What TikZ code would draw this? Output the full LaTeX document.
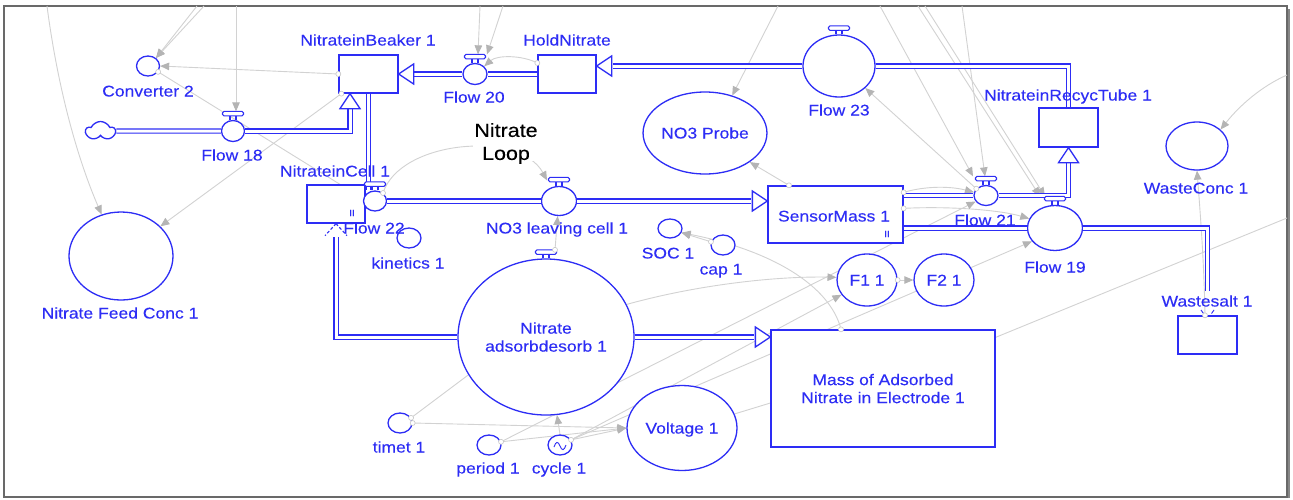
\documentclass[tikz,border=0pt]{standalone}
\usepackage{fontspec}
\setmainfont{Liberation Sans}[FakeStretch=1.13,FakeBold=0.2]
\usetikzlibrary{shapes.geometric,shapes.symbols,arrows.meta,calc,backgrounds}
\definecolor{sb}{RGB}{45,45,245}
\definecolor{lg}{RGB}{210,210,210}
\definecolor{ag}{RGB}{180,180,180}
\definecolor{fr}{RGB}{105,105,105}
\newcommand\LblFont{\fontsize{15.5}{18}\selectfont}
\tikzset{
  stock/.style={draw=sb, line width=1.3pt, fill=white, rectangle, inner sep=0pt},
  ellb/.style={draw=sb, line width=1.3pt, fill=white, ellipse, inner sep=0pt},
  ell/.style={ellb, text=sb, font=\LblFont, text height=11pt, text depth=0pt},
  lbl/.style={text=sb, font=\LblFont, inner sep=0pt, text height=11pt, text depth=0pt},
  mlbl/.style={text=sb, font=\LblFont, align=center, text depth=0pt},
  pipe/.style={draw=sb, double=white, double distance=3pt, line width=1.2pt},
  link/.style={draw=lg, line width=0.9pt, -{Triangle[length=9pt,width=7.5pt,color=ag]}},
  plain/.style={draw=lg, line width=0.9pt},
  odot/.style={circle, draw=black!22, fill=white, inner sep=0pt, minimum size=5pt, line width=0.6pt},
  iimark/.style={text=sb, font=\fontsize{9}{9}\selectfont, inner sep=0pt},
  fhead/.pic={\draw[draw=sb, line width=1.3pt, fill=white, line join=miter] (0,0) -- (-15,10) -- (-15,-10) -- cycle;},
  dhead/.pic={\draw[draw=sb, line width=1.1pt, dash pattern=on 3pt off 2pt] (0,0) -- (-12,11) (0,0) -- (-12,-11);},
  handle/.pic={\draw[sb, line width=1.1pt] (-3,0) -- (-3,-4) (3,0) -- (3,-4);
               \draw[sb, line width=1.1pt, fill=white, rounded corners=1.5pt] (-10.5,-4) rectangle (10.5,-8.5);}
}
\begin{document}
\begin{tikzpicture}[x=1pt,y=-1pt]
\useasboundingbox (0,0) rectangle (1293,499);

% ---------- stocks ----------
\node[stock, minimum width=59pt, minimum height=38pt] (beaker) at (368.5,74) {};
\node[stock, minimum width=58pt, minimum height=38pt] (hold) at (567,74) {};
\node[stock, minimum width=59pt, minimum height=39pt] (recyc) at (1068.5,127.5) {};
\node[stock, minimum width=58pt, minimum height=38pt] (cell) at (336,204) {};
\node[stock, minimum width=135pt, minimum height=57pt] (sensor) at (835.5,214.5) {};
\node[stock, minimum width=224pt, minimum height=117pt, mlbl] (mass) at (883,388.5) {Mass of Adsorbed\\Nitrate in Electrode 1};
\node[stock, minimum width=59pt, minimum height=38pt] (waste) at (1207.5,335) {};

% ---------- flows ----------
\node[ell, minimum width=23pt, minimum height=21pt] (f18) at (233,131) {};
\node[ell, minimum width=24pt, minimum height=21pt] (f20) at (475,74) {};
\node[ell, minimum width=72pt, minimum height=62pt] (f23) at (839,66) {};
\node[ell, minimum width=23pt, minimum height=20pt] (f22) at (375,201) {};
\node[ell, minimum width=35pt, minimum height=29pt] (fno3) at (559,201) {};
\node[ell, minimum width=24pt, minimum height=20pt] (f21) at (986,195.5) {};
\node[ell, minimum width=55pt, minimum height=45pt] (f19) at (1055,228) {};
\node[ellb, minimum width=176pt, minimum height=156pt, mlbl] (fads) at (546,337) {Nitrate\\adsorbdesorb 1};

% ---------- converters ----------
\node[ell, minimum width=23pt, minimum height=20pt] (conv2) at (148,66) {};
\node[ell, minimum width=24pt, minimum height=20pt] (kin) at (409,238) {};
\node[ell, minimum width=24pt, minimum height=19pt] (soc) at (670,228.5) {};
\node[ell, minimum width=24pt, minimum height=20pt] (cap) at (723,245) {};
\node[ell, minimum width=24pt, minimum height=20pt] (timet) at (400,423) {};
\node[ell, minimum width=24pt, minimum height=20pt] (period) at (489,445) {};
\node[ell, minimum width=24pt, minimum height=20pt] (cycle) at (560,445) {};
\node[ell, minimum width=110pt, minimum height=85pt] (volt) at (682,428) {Voltage 1};
\node[ell, minimum width=96pt, minimum height=82pt] (probe) at (705,133) {NO3 Probe};
\node[ell, minimum width=62pt, minimum height=48pt] (wconc) at (1197,146) {};
\node[ell, minimum width=104pt, minimum height=88pt] (feed) at (121,256) {};
\node[ell, minimum width=60pt, minimum height=52pt] (F1) at (867,280) {F1 1};
\node[ell, minimum width=60pt, minimum height=52pt] (F2) at (944,280) {F2 1};

\node[cloud, cloud puffs=5, cloud puff arc=130, aspect=1.5, draw=sb, fill=white, line width=1.3pt,
      minimum width=29pt, minimum height=19pt, inner sep=0pt] (cloud) at (100.5,131) {};

% ---------- handle coordinates ----------
\coordinate (f18h) at ([yshift=8.5pt]f18.north);
\coordinate (f20h) at ([yshift=8.5pt]f20.north);
\coordinate (f21h) at ([yshift=8.5pt]f21.north);
\coordinate (f19h) at ([yshift=8.5pt]f19.north);
\coordinate (fno3h) at ([yshift=8.5pt]fno3.north);
\coordinate (fadsh) at ([yshift=8.5pt]fads.north);
\coordinate (b18) at ($(beaker.south)+(-18.5,0)$);

% ---------- free ends at the frame ----------
\coordinate (t1) at (47,6);
\coordinate (t2a) at (197,6);
\coordinate (t2b) at (204,6);
\coordinate (t3) at (236,6);
\coordinate (t8a) at (480,6);
\coordinate (t8b) at (503,6);
\coordinate (t9) at (778,6);
\coordinate (t12a) at (880,6);
\coordinate (t12b) at (962,6);
\coordinate (t13a) at (918,6);
\coordinate (t13b) at (925,6);
\coordinate (r1) at (1287,75);
\coordinate (r2) at (1287,218);

% ---------- background: frame and information links ----------
\begin{scope}[on background layer]
\fill[white] (0,0) rectangle (1293,499);
\draw[fr, line width=1.2pt] (4,6) rectangle (1287,497);
\draw[fr!80, line width=2.5pt] (1289,9) -- (1289,498);

\draw[link] (t1) .. controls (58,90) and (78,160) .. (feed.115);
\draw[link] (t2a) -- (conv2.45);
\draw[link] (t2b) -- (conv2.45);
\draw[link] (t3) -- ([xshift=3pt]f18h);
\draw[link] (beaker.west) -- (conv2.east);
\draw[plain] (conv2.-30) -- ([xshift=4pt]cell.north);
\draw[link] ([xshift=3pt]beaker.south west) -- (feed.37);
\draw[link] ([yshift=11pt]hold.west) .. controls (522,55) and (497,55) .. (f20.40);
\draw[link] (t8a) -- ([xshift=3pt]f20h);
\draw[link] (t8b) -- ([xshift=12pt]f20h);
\draw[link] (t9) -- (probe.54);
\draw[link] ([xshift=-46.5pt]sensor.north) -- (probe.-33);
\draw[link] (f21.145) -- (f23.-40);
\draw[link] (t12a) -- ([xshift=-13pt]f21h);
\draw[link] (t12b) -- ([xshift=-1pt]f21h);
\draw[link] (t13a) -- ([xshift=-15pt]f19h);
\draw[link] (t13b) -- ([xshift=-10pt]f19h);
\draw[link] (r1) .. controls (1262,86) and (1240,105) .. (wconc.35);
\draw[link] ([xshift=-2.5pt]waste.north) .. controls (1204,260) and (1200,210) .. (wconc.south);
\draw[link] ([yshift=-7pt]sensor.north east) .. controls (925,186) and (950,186) .. (f21.165);
\draw[link] ([yshift=-23pt]sensor.north east) .. controls (950,206) and (1000,210) .. (f19.160);
\draw[link] (period.15) -- (f21.-150);
\draw[link] (cycle.25) -- (F1.-150);
\draw[link] (cycle.25) -- (f19.-150);
\draw[link] (cycle.north) -- (fads.-82);
\draw[link] (period.15) -- (volt.west);
\draw[link] (cycle.25) -- (volt.west);
\draw[link] (timet.east) -- (volt.west);
\draw[plain] (timet.25) -- (fads.-154);
\draw[link] (fads.22) .. controls (700,284) and (780,276) .. (F1.175);
\draw[link] ([xshift=9pt]fadsh) -- (fno3.-95);
\draw[link] (F1.east) -- (F2.west);
\draw[link] ([xshift=-42pt]mass.north) .. controls (830,285) and (770,250) .. (soc.-20);
\draw[link] (cap.165) -- (soc.-20);
\draw[plain] ([yshift=-8pt]mass.north east) -- (r2);
\draw[plain] (volt.15) -- ([yshift=-14.5pt]mass.west);
\draw[link] (f22.45) .. controls (400,140) and (520,130) .. ([xshift=-12pt,yshift=-3pt]fno3h);
\end{scope}

% ---------- pipes ----------
\draw[pipe] (cloud.east) -- (f18.west);
\draw[pipe] (f18.east) -- (b18 |- f18.east) -- ($(b18)+(0,14)$);
\draw[pipe] (hold.west) -- (f20.east);
\draw[pipe] (f20.west) -- ($(beaker.east)+(15,0)$);
\draw[pipe] (recyc.north) -- (recyc.north |- f23.east) -- (f23.east);
\draw[pipe] (f23.west) -- ($(hold.east)+(16,-8)$);
\draw[pipe] (beaker.south) -- (beaker.south |- f22.north);
\draw[pipe] (f22.east) -- (fno3.west);
\draw[pipe] (fno3.east) -- ($(sensor.west)+(-16,-13.5)$);
\draw[pipe] (sensor.east |- f21.west) -- (f21.west);
\draw[pipe] (f21.east) -- (recyc.south |- f21.east) -- ($(recyc.south)+(0,14)$);
\draw[pipe] (sensor.east |- f19.west) -- (f19.west);
\draw[pipe] (f19.east) -- (waste.north |- f19.east) -- ($(waste.north)+(0,-24)$);
\draw[pipe] (fads.west) -- (cell.south |- fads.west) -- ($(cell.south)+(0,13)$);
\draw[pipe] (fads.east) -- ($(mass.west |- fads.east)+(-16,0)$);

% ---------- pipe heads ----------
\pic[rotate=90] at (b18) {fhead};
\pic[rotate=180] at (beaker.east) {fhead};
\pic[rotate=180] at ($(hold.east)+(0,-8)$) {fhead};
\pic at ($(sensor.west)+(0,-13.5)$) {fhead};
\pic[rotate=90] at (recyc.south) {fhead};
\pic at (mass.west |- fads.east) {fhead};
\pic[rotate=90] at (cell.south) {dhead};

% ---------- valve handles ----------
\pic at (f18.north) {handle};
\pic at (f20.north) {handle};
\pic at (f23.north) {handle};
\pic at (f22.north) {handle};
\pic at (fno3.north) {handle};
\pic at (f21.north) {handle};
\pic at (f19.north) {handle};
\pic at (fads.north) {handle};

% ---------- small marks ----------
\draw[sb, line width=0.9pt] (554,447) .. controls (556,441) and (558,441) .. (560,446)
      .. controls (562,451) and (564,451) .. (566,445);
\node[iimark] (ii1) at (352,213) {II};
\node[iimark] (ii2) at (887,234) {II};
\draw[sb, line width=0.9pt] (1201,310) -- (1203.5,313.5) (1214,310) -- (1211.5,313.5);

% ---------- labels ----------
\node[lbl] (l-conv2) at (148,91) {Converter 2};
\node[lbl] (l-f18) at (232,155) {Flow 18};
\node[lbl] (l-beaker) at (368,40) {NitrateinBeaker 1};
\node[lbl] (l-hold) at (567,40) {HoldNitrate};
\node[lbl] (l-f20) at (474,97) {Flow 20};
\node[align=center, fill=white, inner sep=1pt, text depth=0pt, font=\fontsize{19}{23}\selectfont, text=black] (loop) at (506,141.5) {Nitrate\\Loop};
\node[lbl] (l-f23) at (839,110) {Flow 23};
\node[lbl] (l-recyc) at (1068,95) {NitrateinRecycTube 1};
\node[lbl] (l-wconc) at (1196,188) {WasteConc 1};
\node[lbl] (l-cell) at (335,171) {NitrateinCell 1};
\node[lbl] (l-f22) at (374,228) {Flow 22};
\node[lbl] (l-kin) at (408,263) {kinetics 1};
\node[lbl] (l-fno3) at (557,228) {NO3 leaving cell 1};
\node[lbl] (l-soc) at (668,253) {SOC 1};
\node[lbl] (l-cap) at (721,269) {cap 1};
\node[lbl] (l-sensor) at (834,216) {SensorMass 1};
\node[lbl] (l-f21) at (985,220) {Flow 21};
\node[lbl] (l-f19) at (1055,267) {Flow 19};
\node[lbl] (l-waste) at (1207,301) {Wastesalt 1};
\node[lbl] (l-feed) at (120,313) {Nitrate Feed Conc 1};
\node[lbl] (l-timet) at (399,447) {timet 1};
\node[lbl] (l-period) at (488,468) {period 1};
\node[lbl] (l-cycle) at (559,468) {cycle 1};

% ---------- link origin dots ----------
\foreach \p in {(conv2.-30), (beaker.west), ([xshift=3pt]beaker.south west),
  ([yshift=11pt]hold.west), ([xshift=-46.5pt]sensor.north),
  ([yshift=-7pt]sensor.north east), ([yshift=-23pt]sensor.north east),
  (f22.45), (cap.165), (period.15), (cycle.25), (timet.25), (timet.east),
  (F1.east), ([xshift=-42pt]mass.north), ([xshift=-2.5pt]waste.north),
  ([xshift=9pt]fadsh), (f21.145)}
  \node[odot] at \p {};
\end{tikzpicture}
\end{document}
